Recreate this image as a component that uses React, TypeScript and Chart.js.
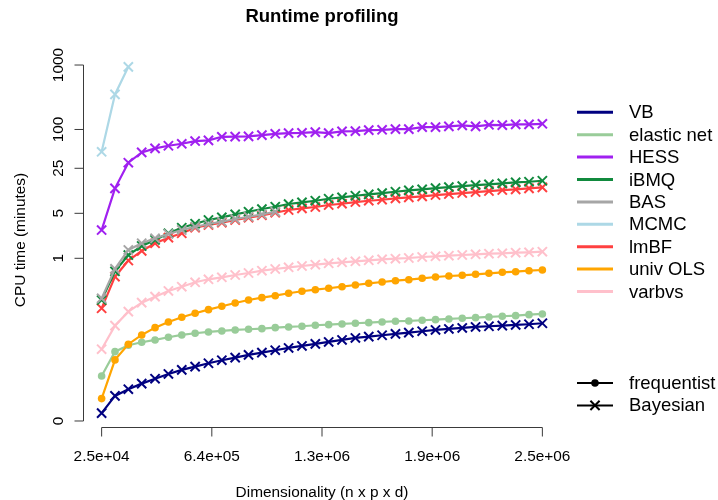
import React, { useEffect, useRef } from "react";
import { Chart, registerables } from "chart.js";

Chart.register(...registerables);

// Dimensionality (n x p x d) at which each method was timed
const DIM = [
  25000, 100000, 175000, 250000, 325000, 400000, 475000, 550000, 625000, 700000,
  775000, 850000, 925000, 1000000, 1075000, 1150000, 1225000, 1300000, 1375000, 1450000,
  1525000, 1600000, 1675000, 1750000, 1825000, 1900000, 1975000, 2050000, 2125000, 2200000,
  2275000, 2350000, 2425000, 2500000,
];

// CPU time (minutes)
const VB = [0.00097, 0.00435, 0.00634, 0.0084, 0.0106, 0.0131, 0.0156, 0.0179, 0.0206, 0.0233, 0.0259, 0.0288, 0.0315, 0.0346, 0.0378, 0.0408, 0.0441, 0.0475, 0.0513, 0.0553, 0.0581, 0.0612, 0.0643, 0.0674, 0.0711, 0.0746, 0.0774, 0.0803, 0.0833, 0.0855, 0.0874, 0.0897, 0.0921, 0.0955];
const ELASTIC_NET = [0.012, 0.0327, 0.0419, 0.047, 0.0513, 0.0568, 0.0619, 0.066, 0.0692, 0.0719, 0.0746, 0.0765, 0.0783, 0.0812, 0.0833, 0.0855, 0.0888, 0.0908, 0.0931, 0.0955, 0.0977, 0.1002, 0.1028, 0.104, 0.1067, 0.1091, 0.1119, 0.1148, 0.1173, 0.1204, 0.1235, 0.1262, 0.1309, 0.1343];
const HESS = [2.75, 12.2, 30.5, 44.1, 50.9, 55.9, 60.0, 66.1, 67.7, 77.0, 77.5, 78.1, 81.8, 85.7, 87.9, 88.8, 91.1, 87.9, 93.4, 94.4, 97.8, 98.9, 101.4, 101.4, 108.9, 108.9, 111.6, 115.7, 111.6, 118.2, 116.9, 119.9, 119.9, 122.5];
const IBMQ = [0.223, 0.627, 1.125, 1.553, 1.928, 2.448, 2.99, 3.45, 3.937, 4.335, 4.826, 5.295, 5.831, 6.328, 6.969, 7.404, 7.842, 8.42, 8.851, 9.372, 9.851, 10.32, 10.81, 11.36, 11.78, 12.34, 12.79, 13.25, 13.74, 14.08, 14.59, 15.12, 15.45, 16.01];
const BAS = [0.237, 0.686, 1.349, 1.714, 2.048, 2.388, 2.755, 3.099, 3.413, 3.705, 4.079, 4.429, 4.826, 5.295];
const MCMC = [45.1, 350, 937];
const LMBF = [0.165, 0.517, 0.924, 1.302, 1.71, 2.093, 2.448, 2.99, 3.293, 3.574, 3.937, 4.274, 4.656, 5.109, 5.626, 5.977, 6.26, 6.725, 7.043, 7.484, 7.842, 8.125, 8.541, 8.851, 9.174, 9.61, 9.959, 10.32, 10.7, 11.08, 11.49, 11.78, 12.21, 12.65];
const UNIV_OLS = [0.00368, 0.0236, 0.0436, 0.0619, 0.0812, 0.1002, 0.1191, 0.1378, 0.1571, 0.1778, 0.2004, 0.2234, 0.2428, 0.2609, 0.2845, 0.3058, 0.3239, 0.3407, 0.3609, 0.3836, 0.4078, 0.4274, 0.4478, 0.4641, 0.4881, 0.5114, 0.5301, 0.5436, 0.5634, 0.584, 0.6053, 0.6184, 0.6412, 0.6575];
const VARBVS = [0.036, 0.0874, 0.1461, 0.2026, 0.2517, 0.3091, 0.3609, 0.4228, 0.4708, 0.5058, 0.5495, 0.5904, 0.6412, 0.6815, 0.7243, 0.7587, 0.795, 0.8359, 0.8664, 0.8981, 0.9308, 0.9648, 0.9858, 1.011, 1.048, 1.074, 1.098, 1.126, 1.154, 1.179, 1.196, 1.222, 1.24, 1.267];

const Y_TICKS = [0, 1, 5, 25, 100, 1000];
const X_TICKS = [25000, 643750, 1262500, 1881250, 2500000];
const X_TICK_LABELS = ["2.5e+04", "6.4e+05", "1.3e+06", "1.9e+06", "2.5e+06"];

const SERIES = [
  { name: "VB", data: VB, color: "#000080", bayes: true },
  { name: "elastic net", data: ELASTIC_NET, color: "#99CC99", bayes: false },
  { name: "HESS", data: HESS, color: "#A020F0", bayes: true },
  { name: "iBMQ", data: IBMQ, color: "#118A3E", bayes: true },
  { name: "BAS", data: BAS, color: "#A6A6A6", bayes: true },
  { name: "MCMC", data: MCMC, color: "#ADD8E6", bayes: true },
  { name: "lmBF", data: LMBF, color: "#FF4040", bayes: true },
  { name: "univ OLS", data: UNIV_OLS, color: "#FFA500", bayes: false },
  { name: "varbvs", data: VARBVS, color: "#FFC0CB", bayes: true },
];
// drawing sequence (later = on top)
const DRAW_SEQ = ["VB", "elastic net", "HESS", "MCMC", "lmBF", "iBMQ", "BAS", "univ OLS", "varbvs"];

const OFFSET = 0.003;
const tf = (v: number) => Math.log10(v + OFFSET);

const FONT = "'Liberation Sans', Arial, Helvetica, sans-serif";

export default function App() {
  const ref = useRef<HTMLCanvasElement | null>(null);

  useEffect(() => {
    if (!ref.current) return;
    const all: number[] = [];
    SERIES.forEach((s) => s.data.forEach((v) => all.push(tf(v))));
    const tmin = Math.min(...all);
    const tmax = Math.max(...all);
    const pad = (tmax - tmin) * 0.04;
    const xr = DIM[DIM.length - 1] - DIM[0];

    const datasets = SERIES.map((s) => ({
      label: s.name,
      data: s.data.map((v, i) => ({ x: DIM[i], y: tf(v) })),
      borderColor: s.color,
      backgroundColor: s.color,
      borderWidth: 2.2,
      pointStyle: s.bayes ? "crossRot" : "circle",
      pointRadius: s.bayes ? 6.5 : 3.8,
      pointBorderWidth: s.bayes ? 2 : 0,
      pointBackgroundColor: s.color,
      pointBorderColor: s.color,
      pointHoverRadius: 0,
      tension: 0,
      fill: false,
      order: 100 - DRAW_SEQ.indexOf(s.name),
    }));

    const rPlugin = {
      id: "rAxes",
      afterDraw(chart: any) {
        const ctx = chart.ctx as CanvasRenderingContext2D;
        const xs = chart.scales.x;
        const ys = chart.scales.y;
        const area = chart.chartArea;
        ctx.save();
        ctx.strokeStyle = "#3a3a3a";
        ctx.lineWidth = 1;
        ctx.fillStyle = "#000";
        // Y axis
        const ax = Math.round(area.left) - 0.5;
        const y0 = ys.getPixelForValue(tf(Y_TICKS[0]));
        const y1 = ys.getPixelForValue(tf(Y_TICKS[Y_TICKS.length - 1]));
        ctx.beginPath();
        ctx.moveTo(ax, y0);
        ctx.lineTo(ax, y1);
        ctx.stroke();
        ctx.font = `15.4px ${FONT}`;
        Y_TICKS.forEach((t) => {
          const py = ys.getPixelForValue(tf(t));
          ctx.beginPath();
          ctx.moveTo(ax, py);
          ctx.lineTo(ax - 9, py);
          ctx.stroke();
          ctx.save();
          ctx.translate(63, py);
          ctx.rotate(-Math.PI / 2);
          ctx.textAlign = "center";
          ctx.textBaseline = "alphabetic";
          ctx.fillText(String(t), 0, 0);
          ctx.restore();
        });
        // X axis
        const ay = Math.round(area.bottom) + 0.5;
        const x0 = xs.getPixelForValue(X_TICKS[0]);
        const x1 = xs.getPixelForValue(X_TICKS[X_TICKS.length - 1]);
        ctx.beginPath();
        ctx.moveTo(x0, ay);
        ctx.lineTo(x1, ay);
        ctx.stroke();
        X_TICKS.forEach((t, i) => {
          const px = xs.getPixelForValue(t);
          ctx.beginPath();
          ctx.moveTo(px, ay);
          ctx.lineTo(px, ay + 9);
          ctx.stroke();
          ctx.textAlign = "center";
          ctx.textBaseline = "alphabetic";
          ctx.fillText(X_TICK_LABELS[i], px, 461);
        });
        // Axis titles
        const cx = (area.left + area.right) / 2;
        const cy = (area.top + area.bottom) / 2;
        ctx.textAlign = "center";
        ctx.fillText("Dimensionality (n x p x d)", cx, 497);
        ctx.save();
        ctx.translate(25, cy);
        ctx.rotate(-Math.PI / 2);
        ctx.fillText("CPU time (minutes)", 0, 0);
        ctx.restore();
        // Title
        ctx.font = `bold 18.5px ${FONT}`;
        ctx.fillText("Runtime profiling", cx, 21.5);
        // Legend 1
        ctx.font = `18.5px ${FONT}`;
        ctx.textAlign = "left";
        ctx.textBaseline = "middle";
        SERIES.forEach((s, i) => {
          const ly = 112.3 + 22.4 * i;
          ctx.strokeStyle = s.color;
          ctx.lineWidth = 3;
          ctx.beginPath();
          ctx.moveTo(577, ly);
          ctx.lineTo(613, ly);
          ctx.stroke();
          ctx.fillStyle = "#000";
          ctx.fillText(s.name, 629, ly + 1);
        });
        // Legend 2
        const l2 = [
          { name: "frequentist", y: 383 },
          { name: "Bayesian", y: 405.4 },
        ];
        l2.forEach((e, i) => {
          ctx.strokeStyle = "#000";
          ctx.fillStyle = "#000";
          ctx.lineWidth = 2;
          ctx.beginPath();
          ctx.moveTo(577, e.y);
          ctx.lineTo(613, e.y);
          ctx.stroke();
          if (i === 0) {
            ctx.beginPath();
            ctx.arc(595, e.y, 3.8, 0, Math.PI * 2);
            ctx.fill();
          } else {
            const r = 6.5 * Math.SQRT1_2;
            ctx.beginPath();
            ctx.moveTo(595 - r, e.y - r);
            ctx.lineTo(595 + r, e.y + r);
            ctx.moveTo(595 - r, e.y + r);
            ctx.lineTo(595 + r, e.y - r);
            ctx.stroke();
          }
          ctx.fillText(e.name, 629, e.y + 1);
        });
        ctx.restore();
      },
    };

    const chart = new Chart(ref.current, {
      type: "line",
      data: { datasets: datasets as any },
      options: {
        animation: false,
        responsive: false,
        devicePixelRatio: 1,
        layout: { padding: { left: 84, right: 158, top: 53, bottom: 73 } },
        plugins: { legend: { display: false }, title: { display: false }, tooltip: { enabled: false } },
        events: [],
        scales: {
          x: { type: "linear", display: false, min: DIM[0] - 0.04 * xr, max: DIM[DIM.length - 1] + 0.04 * xr },
          y: { type: "linear", display: false, min: tmin - pad, max: tmax + pad },
        },
      },
      plugins: [rPlugin],
    });
    return () => chart.destroy();
  }, []);

  return (
    <div style={{ position: "absolute", left: 0, top: 0, width: 718, height: 500, background: "#fff" }}>
      <canvas ref={ref} width={718} height={500} style={{ width: 718, height: 500, display: "block" }} />
    </div>
  );
}
